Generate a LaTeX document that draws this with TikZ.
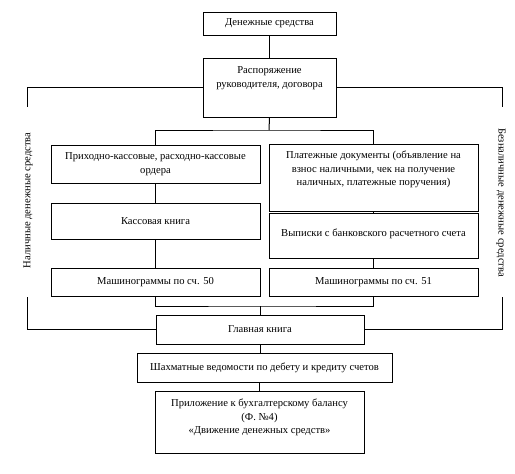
\documentclass[tikz,border=0pt]{standalone}
\usepackage{fontspec}
\setmainfont{Liberation Serif}
\begin{document}
\begin{tikzpicture}[x=1pt,y=-1pt,line width=1pt,
  box/.style={draw,inner sep=0pt,minimum width=209pt},
  txt/.style={align=center,inner sep=0pt,font=\fontsize{10.6}{13.5}\selectfont}]
\useasboundingbox (0,0) rectangle (515,474);
% top
\node[box,txt,minimum width=133pt,minimum height=23pt] (ds) at (269.5,23.5) {Денежные средства};
\node[box,minimum width=133pt,minimum height=59pt] (rasp) at (269.5,87.5) {};
\node[txt,anchor=north] (raspT) at ([yshift=-9pt]rasp.north) {Распоряжение\\руководителя, договора};
% left column
\node[box,txt,minimum height=38pt] (kpo) at (155.5,164) {Приходно-кассовые, расходно-кассовые\\ордера};
\node[box,txt,minimum height=36pt] (kkn) at (155.5,221) {Кассовая книга};
\node[box,txt,minimum height=28pt] (m50) at (155.5,282) {Машинограммы по сч. 50};
% right column
\node[box,minimum height=67pt] (plat) at (373.5,177.5) {};
\node[txt,anchor=north] (platT) at ([yshift=-7pt]plat.north) {Платежные документы (объявление на\\взнос наличными, чек на получение\\наличных, платежные поручения)};
\node[box,minimum height=45pt] (vyp) at (373.5,235.5) {};
\node[txt,anchor=north] (vypT) at ([yshift=-16pt]vyp.north) {Выписки с банковского расчетного счета};
\node[box,txt,minimum height=28pt] (m51) at (373.5,282) {Машинограммы по сч. 51};
% bottom
\node[box,txt,minimum width=208pt,minimum height=29pt] (gk) at (260,329.5) {Главная книга};
\node[box,txt,minimum width=255pt,minimum height=29pt] (shakh) at (264.5,367.5) {Шахматные ведомости по дебету и кредиту счетов};
\node[box,minimum height=62pt] (pril) at (259.5,422) {};
\node[txt,anchor=north] (prilT) at ([yshift=-8pt]pril.north) {Приложение к бухгалтерскому балансу\\(Ф. №4)\\«Движение денежных средств»};
% side labels
\node[txt,rotate=90] (nal) at (28,200.5) {Наличные денежные средства};
\node[txt,rotate=-90] (beznal) at (501,202.5) {Безналичные денежные средства};
% connectors
\draw (ds) -- (rasp);
\coordinate (split) at (269,130);
\coordinate (join) at (260,306);
\draw (rasp.south) -- (split);
\draw (kpo.north) |- (split) -| (plat.north);
\draw (kpo) -- (kkn);
\draw (kkn) -- (m50);
\draw (plat) -- (vyp);
\draw (vyp) -- (m51);
\draw (m50.south) |- (join) -| (m51.south);
\draw (join) -- (gk.north);
\draw (gk.south) -- (gk.south |- shakh.north);
\draw (shakh.south -| pril.north) -- (pril.north);
% side brackets
\coordinate (nalTop) at (27,107);
\coordinate (nalBot) at (27,297);
\coordinate (beznalTop) at (502,107);
\coordinate (beznalBot) at (502,297);
\draw (rasp.west) -| (nalTop);
\draw (nalBot) |- (gk.west);
\draw (rasp.east) -| (beznalTop);
\draw (beznalBot) |- (gk.east);
\end{tikzpicture}
\end{document}
